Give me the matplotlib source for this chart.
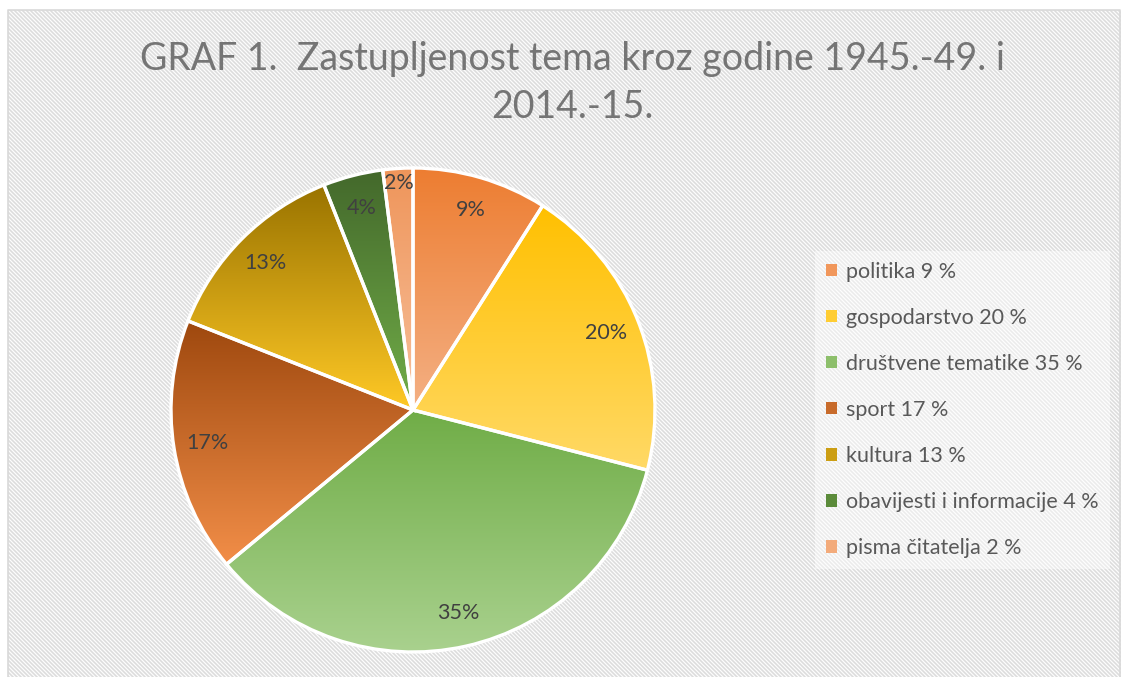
import numpy as np
import matplotlib.pyplot as plt
from matplotlib.colors import to_rgb
from matplotlib.patches import Patch

plt.rcParams['font.family'] = ['Lato', 'DejaVu Sans']

categories = ['politika', 'gospodarstvo', 'društvene tematike', 'sport',
              'kultura', 'obavijesti i informacije', 'pisma čitatelja']
values = [9, 20, 35, 17, 13, 4, 2]

# gradient colours, top -> bottom of each slice
top_colors = ['#ED7D31', '#FFC000', '#70AD47', '#9E480E', '#997300', '#43682B', '#EF955A']
bottom_colors = ['#F4B084', '#FFD966', '#A9D18E', '#F28E48', '#FFC926', '#72AE49', '#F7C09C']

W, H = 1125, 677
fig = plt.figure(figsize=(W / 100, H / 100), dpi=100)

# striped background
bg = fig.add_axes([0, 0, 1, 1])
yy, xx = np.mgrid[0:H, 0:W]
shade = np.array([0.86, 0.91, 0.985, 0.91])[(xx - yy) % 4]
shade[:10, :] = 1
shade[:, :8] = 1
shade[:, 1121:] = 1
bg.imshow(shade, cmap='gray', vmin=0, vmax=1, interpolation='nearest',
          aspect='auto', extent=(0, W, H, 0))
bg.plot([8, 8, 1120, 1120], [H, 10, 10, H], color='#d9d9d9', lw=1.2)
bg.set_xlim(0, W)
bg.set_ylim(H, 0)
bg.axis('off')

# pie
cx, cy, R = 413, 410, 242
pad = 1.03
ax = fig.add_axes([(cx - R * pad) / W, (H - cy - R * pad) / H,
                   2 * R * pad / W, 2 * R * pad / H])
wedges, texts, autotexts = ax.pie(
    values, startangle=90, counterclock=False, radius=1,
    autopct='%.0f%%', pctdistance=0.86,
    wedgeprops=dict(edgecolor='white', linewidth=2.4),
    textprops=dict(color='#404040', fontsize=15.5))

for t in texts:
    t.set_visible(False)

for w, c0, c1 in zip(wedges, top_colors, bottom_colors):
    w.set_facecolor('none')
    bb = w.get_path().get_extents()
    f = np.linspace(0, 1, 256)[:, None, None]
    img = (1 - f) * np.array(to_rgb(c0)) + f * np.array(to_rgb(c1))
    im = ax.imshow(img, extent=(bb.x0, bb.x1, bb.y0, bb.y1), origin='upper',
                   aspect='auto', interpolation='bilinear', zorder=0.5)
    im.set_clip_path(w)

# the smallest slice label sits further out
w = wedges[-1]
th = np.deg2rad((w.theta1 + w.theta2) / 2)
autotexts[-1].set_position((0.94 * np.cos(th), 0.94 * np.sin(th)))

ax.set_xlim(-pad, pad)
ax.set_ylim(-pad, pad)
ax.set_aspect('auto')
ax.axis('off')

# legend
mid_colors = [tuple((np.array(to_rgb(a)) + np.array(to_rgb(b))) / 2)
              for a, b in zip(top_colors, bottom_colors)]
handles = [Patch(facecolor=c, edgecolor='none') for c in mid_colors]
labels = [f'{c} {v} %' for c, v in zip(categories, values)]
leg = fig.legend(handles, labels, loc='center left',
                 bbox_to_anchor=(815 / W, 1 - 410 / H),
                 frameon=True, framealpha=0.45, facecolor='white',
                 edgecolor='none', fancybox=False,
                 prop=dict(size=15.5), labelcolor='#595959',
                 handlelength=0.5, handleheight=0.5, handletextpad=0.45,
                 labelspacing=1.21, borderpad=0.5, borderaxespad=0)

fig.text(572 / W, 1 - 83 / H,
         'GRAF 1.  Zastupljenost tema kroz godine 1945.-49. i\n2014.-15.',
         ha='center', va='center', fontsize=27, color='#757575',
         linespacing=1.4)

fig.savefig('out.png', dpi=100)
